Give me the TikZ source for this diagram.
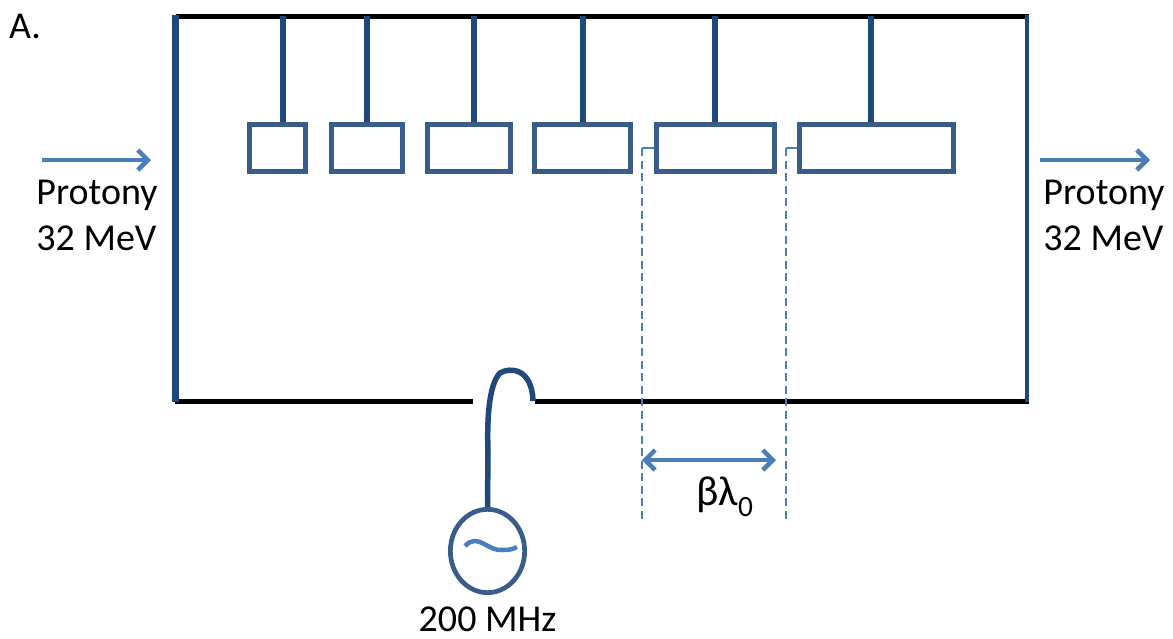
\documentclass[tikz,border=0pt]{standalone}
\usepackage{fontspec}
\setmainfont{Carlito}
\usetikzlibrary{arrows.meta, positioning, shapes.geometric}
\definecolor{stemblue}{HTML}{1F497D}
\definecolor{boxblue}{HTML}{385D8A}
\definecolor{arrowblue}{HTML}{4A7EBB}
\tikzset{
  tube/.style={draw=boxblue, line width=4.7pt, inner sep=0pt, minimum height=47.3pt},
  stem/.style={draw=stemblue, line width=5.5pt},
  beam/.style={draw=arrowblue, line width=4.5pt, -{Straight Barb[length=10pt,width=20pt]}},
  span/.style={draw=arrowblue, line width=4.5pt, {Straight Barb[length=10pt,width=20pt]}-{Straight Barb[length=10pt,width=20pt]}},
  guide/.style={draw=arrowblue, line width=2.2pt, dash pattern=on 8pt off 4.5pt},
  stub/.style={draw=arrowblue, line width=2.2pt},
  label/.style={font=\fontsize{38}{46}\selectfont, inner sep=0pt, align=left}
}
\begin{document}
\begin{tikzpicture}[x=1pt, y=-1pt]
  \useasboundingbox (0,0) rectangle (1173,638);

  \coordinate (tl) at (176,16);
  \coordinate (tr) at (1029,16);
  \coordinate (bl) at (175,401);
  \coordinate (br) at (1029,401);
  \coordinate (gapl) at (473,401);
  \coordinate (gapr) at (535,401);
  \coordinate (ltop) at (175.5,15);
  \coordinate (lbot) at (175.5,402);
  \coordinate (rtop) at (1027,15);
  \coordinate (rbot) at (1027,402);

  \path[draw=black, line width=5pt] (tl) -- (tr) (bl) -- (gapl) (gapr) -- (br);
  \path[draw=stemblue, line width=6.5pt] (ltop) -- (lbot);
  \path[draw=stemblue, line width=4.5pt] (rtop) -- (rbot);

  \node [tube, minimum width=56.3pt] (t1) at (277.5,148) {};
  \node [tube, minimum width=71.3pt, right=21pt of t1] (t2) {};
  \node [tube, minimum width=83.3pt, right=20pt of t2] (t3) {};
  \node [tube, minimum width=96.3pt, right=19pt of t3] (t4) {};
  \node [tube, minimum width=118.3pt, right=21pt of t4] (t5) {};
  \node [tube, minimum width=154.3pt, right=20pt of t5] (t6) {};

  \foreach \n/\x in {t1/283, t2/367, t3/474, t4/583, t5/715, t6/871}
    \path[stem] (\x,16) -- (\x,16 |- \n.north);

  \coordinate (inl) at (42,160);
  \coordinate (inr) at (151,160);
  \coordinate (outl) at (1040,160);
  \coordinate (outr) at (1150,160);
  \path[beam] (inl) -- (inr);
  \path[beam] (outl) -- (outr);

  \node [label] (a) at (25,26) {A.};
  \node [label] (pin) at (97,215) {Protony\\32 MeV};
  \node [label] (pout) at (1104,215) {Protony\\32 MeV};

  \coordinate (c5) at (642,148);
  \coordinate (c6) at (786,148);
  \coordinate (d5) at (642,521);
  \coordinate (d6) at (786,521);
  \path[stub] (t5.west) -- (c5);
  \path[stub] (t6.west) -- (c6);
  \path[guide] (c5) -- (d5);
  \path[guide] (c6) -- (d6);

  \coordinate (sl) at (642,460);
  \coordinate (sr) at (776,460);
  \path[span] (sl) -- (sr);
  \node [label, font=\fontsize{42}{46}\selectfont] (blam) at (725,497) {βλ\textsubscript{0}};

  \node [ellipse, draw=boxblue, line width=4.7pt, minimum width=74.3pt, minimum height=83.3pt, inner sep=0pt] (gen) at (487.5,551) {};
  \node [label, below=12pt of gen] (freq) {200 MHz};
  \coordinate (feed) at (533,401);
  \path[draw=stemblue, line width=5.5pt] (gen.north) -- (488,450) .. controls (487,425) and (488,385) .. (500,373) .. controls (510,367) and (532,368) .. (feed);
  \path[draw=arrowblue, line width=4.5pt] (465,546) .. controls (478,532) and (488,552) .. (503,550) .. controls (510,550) and (513,549) .. (517,547);
\end{tikzpicture}
\end{document}
